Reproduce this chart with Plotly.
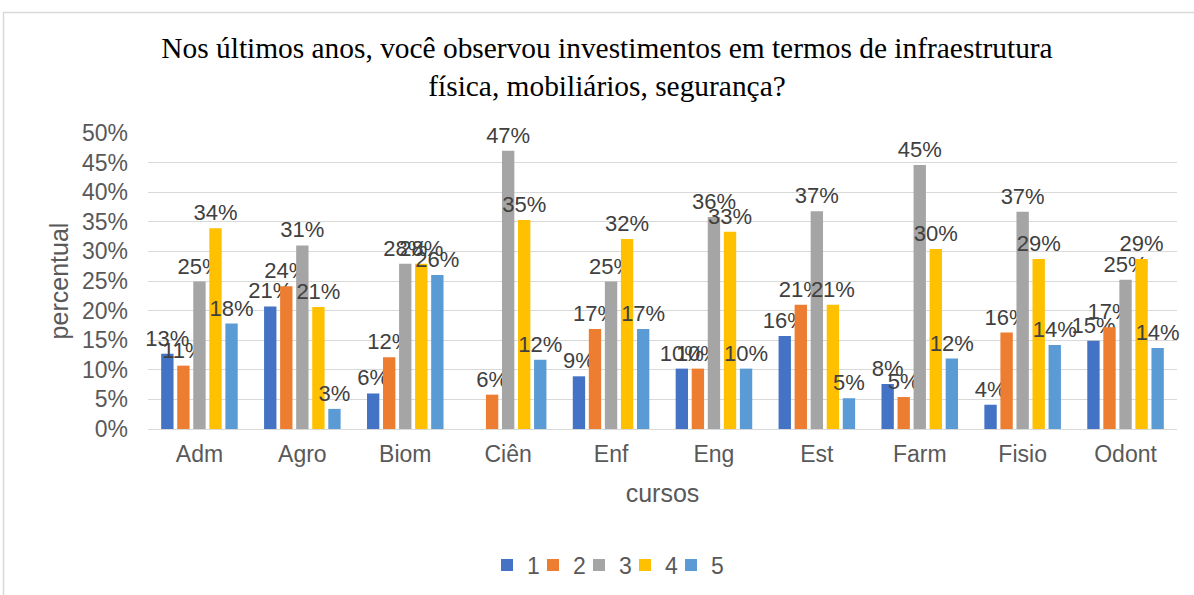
import plotly.graph_objects as go

categories = ["Adm", "Agro", "Biom", "Ciên", "Enf", "Eng", "Est", "Farm", "Fisio", "Odont"]
series_names = ["1", "2", "3", "4", "5"]
s1 = [0.127, 0.207, 0.060, 0.0, 0.089, 0.102, 0.157, 0.076, 0.041, 0.149]
s2 = [0.107, 0.241, 0.121, 0.058, 0.169, 0.102, 0.210, 0.054, 0.163, 0.172]
s3 = [0.249, 0.310, 0.279, 0.470, 0.249, 0.358, 0.368, 0.446, 0.367, 0.252]
s4 = [0.339, 0.206, 0.279, 0.353, 0.321, 0.333, 0.210, 0.304, 0.287, 0.287]
s5 = [0.178, 0.034, 0.260, 0.117, 0.169, 0.102, 0.052, 0.119, 0.142, 0.137]
colors = ["#4472C4", "#ED7D31", "#A5A5A5", "#FFC000", "#5B9BD5"]
y_ticks = [0, 0.05, 0.10, 0.15, 0.20, 0.25, 0.30, 0.35, 0.40, 0.45, 0.50]

W, H = 1194, 595
L, T = 148, 133
R = W - 1177
B = H - 429
pw, ph = W - L - R, H - T - B

def px_x(p):  # screen px -> paper x
    return (p - L) / pw

def px_y(p):  # screen px -> paper y
    return (H - B - p) / ph

fig = go.Figure()
for name, vals, col in zip(series_names, [s1, s2, s3, s4, s5], colors):
    texts = ["" if v == 0 else f"{int(v * 100 + 0.5)}%" for v in vals]
    fig.add_trace(go.Bar(
        x=categories, y=vals, name=name, marker=dict(color=col, line=dict(width=0)),
        text=texts, textposition="outside", cliponaxis=False, constraintext="none",
        textfont=dict(family="Liberation Sans, Arial", size=22, color="#404040"),
    ))
# invisible spacer legend entry so the last legend label is not clipped
fig.add_trace(go.Scatter(
    x=[None], y=[None], name="", mode="markers",
    marker=dict(color="rgba(0,0,0,0)", size=1), hoverinfo="skip", showlegend=True,
))

border = dict(color="#D9D9D9", width=1.5)
fig.update_layout(
    width=W, height=H,
    margin=dict(l=L, r=R, t=T, b=B, autoexpand=False),
    paper_bgcolor="white", plot_bgcolor="white",
    barmode="group", bargap=0.22, bargroupgap=0.23,
    title=dict(
        text="Nos últimos anos, você observou investimentos em termos de infraestrutura<br>física, mobiliários, segurança?",
        x=607 / W, xanchor="center", xref="container",
        y=1 - 58 / H, yanchor="middle", yref="container",
        font=dict(family="Liberation Serif, Times New Roman", size=29.4, color="#000000"),
    ),
    font=dict(family="Liberation Sans, Arial", color="#595959"),
    xaxis=dict(
        title=dict(text="cursos", font=dict(size=25, color="#595959"), standoff=18),
        tickfont=dict(size=23, color="#595959"),
        showline=True, linecolor="#D9D9D9", linewidth=1,
        ticks="", showgrid=False, ticklabelstandoff=4,
    ),
    yaxis=dict(
        title=dict(text="percentual", font=dict(size=25, color="#595959"), standoff=6),
        range=[0, 0.5], tickvals=y_ticks, tickformat=".0%",
        tickfont=dict(size=23, color="#595959"),
        showgrid=True, gridcolor="#D9D9D9", gridwidth=1,
        zeroline=False, showline=False, ticks="", ticklabelstandoff=19,
    ),
    legend=dict(
        orientation="h", x=px_x(625), xanchor="center", y=px_y(565), yanchor="middle",
        font=dict(size=23, color="#595959"), itemwidth=30, entrywidth=1,
    ),
    shapes=[
        dict(type="line", xref="paper", yref="paper",
             x0=px_x(3.5), x1=px_x(3.5), y0=px_y(12), y1=px_y(600), line=border),
        dict(type="line", xref="paper", yref="paper",
             x0=px_x(3), x1=px_x(1200), y0=px_y(12.5), y1=px_y(12.5), line=border),
    ],
)

fig.write_html("out.html", config={"displayModeBar": False},
               post_script="document.body.style.margin='0';")
